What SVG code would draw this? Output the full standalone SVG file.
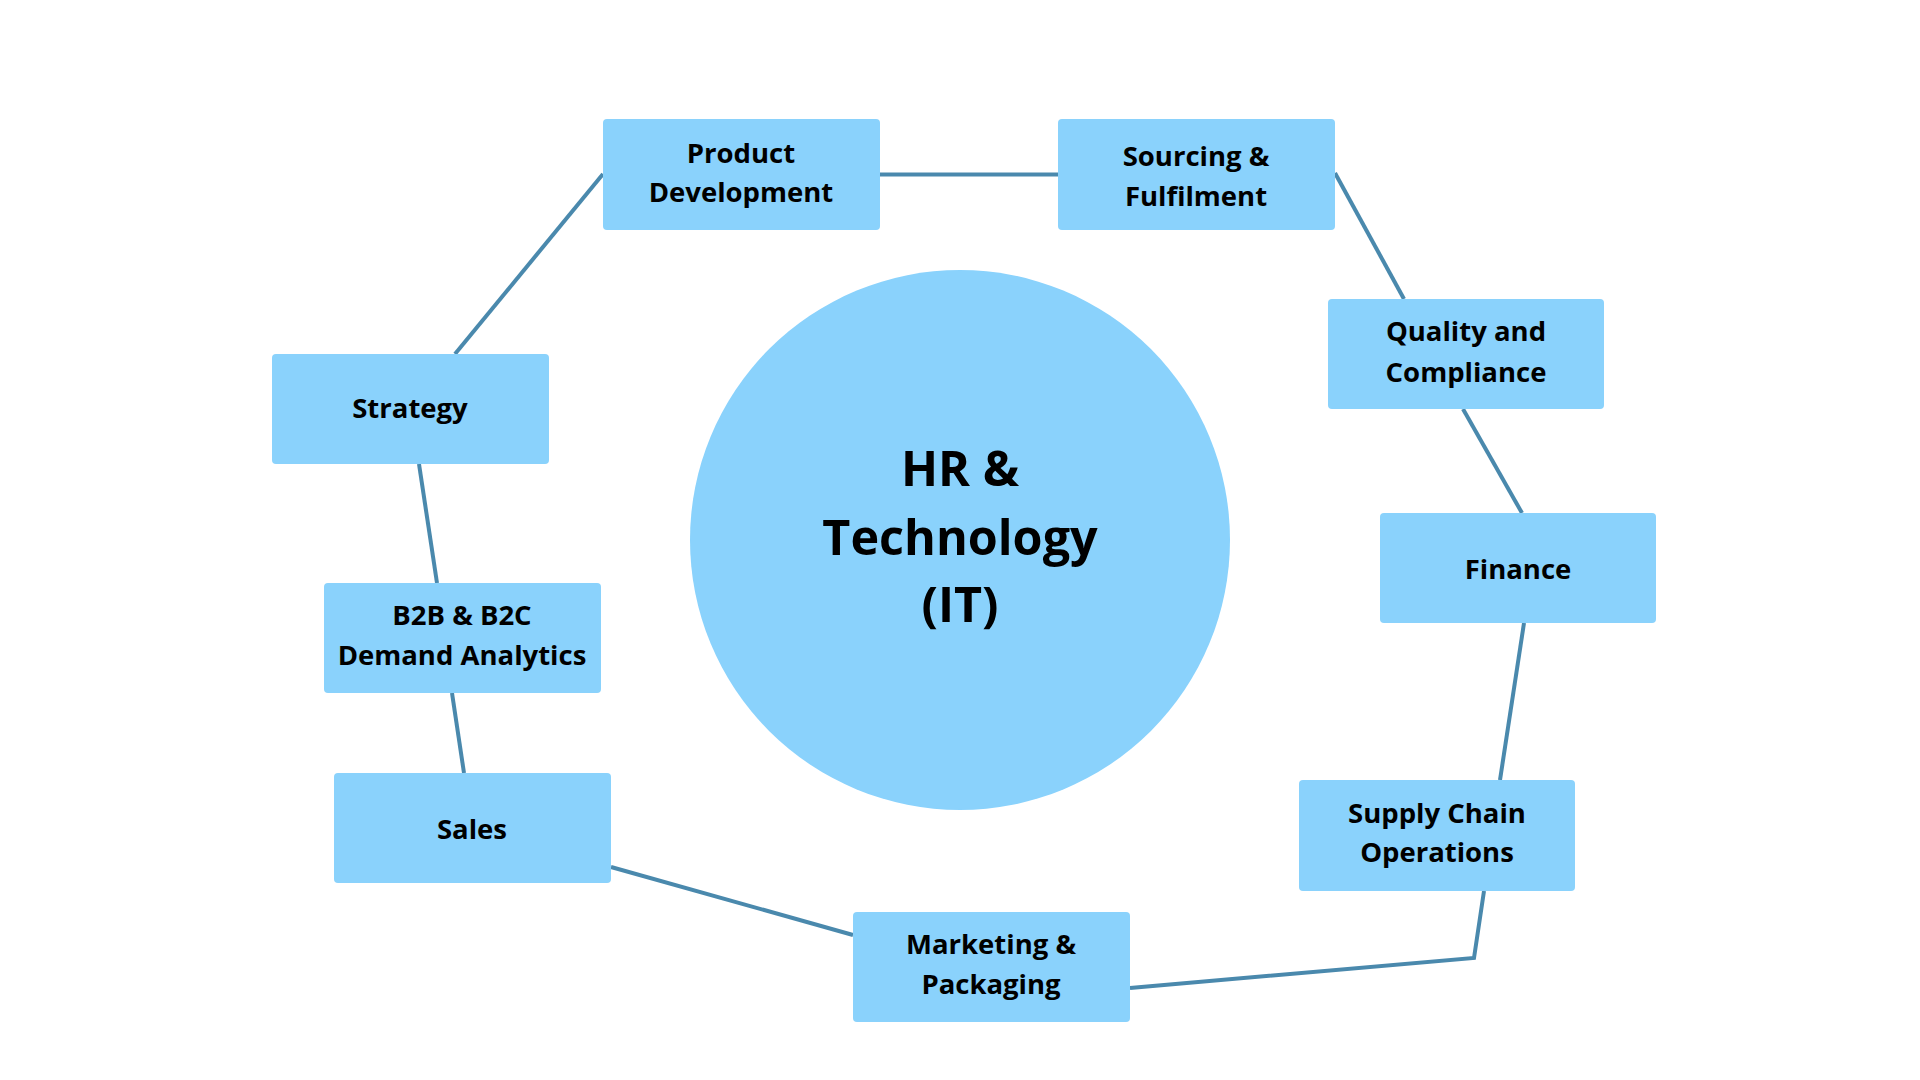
<svg xmlns="http://www.w3.org/2000/svg" width="1920" height="1080" viewBox="0 0 1920 1080">
<style>
.node{fill:#8AD2FC;}
.lbl{font-family:"Open Sans","Noto Sans","Liberation Sans",sans-serif;font-weight:700;font-size:27.5px;fill:#000;text-anchor:middle;}
.big{font-family:"Open Sans","Noto Sans","Liberation Sans",sans-serif;font-weight:700;font-size:48.5px;fill:#000;text-anchor:middle;}
.conn{fill:none;stroke:#4A89AD;stroke-width:4;stroke-linejoin:miter;}
</style>
<rect width="1920" height="1080" fill="#FFFFFF"/>
<g id="connectors">
<line class="conn" x1="879" y1="174.5" x2="1058" y2="174.5"/>
<line class="conn" x1="1335" y1="173" x2="1404" y2="299"/>
<line class="conn" x1="1463" y1="409" x2="1522" y2="513"/>
<line class="conn" x1="1524" y1="623" x2="1500" y2="780"/>
<polyline class="conn" points="1484,891 1474,958 1130,988"/>
<line class="conn" x1="853" y1="935" x2="611" y2="867"/>
<line class="conn" x1="464" y1="773" x2="452" y2="693"/>
<line class="conn" x1="437" y1="583" x2="419" y2="464"/>
<line class="conn" x1="455" y1="354" x2="603" y2="174"/>
</g>
<g id="center">
<circle class="node" cx="960" cy="540" r="270"/>
<text class="big" x="960" y="486">HR &amp;</text>
<text class="big" x="960" y="555">Technology</text>
<text class="big" x="960" y="622">(IT)</text>
</g>
<g id="product-development">
<rect class="node" x="603" y="119" width="277" height="111" rx="4"/>
<text class="lbl" x="741" y="163">Product</text>
<text class="lbl" x="741" y="202">Development</text>
</g>
<g id="sourcing">
<rect class="node" x="1058" y="119" width="277" height="111" rx="4"/>
<text class="lbl" x="1196" y="166">Sourcing &amp;</text>
<text class="lbl" x="1196" y="206">Fulfilment</text>
</g>
<g id="quality">
<rect class="node" x="1328" y="299" width="276" height="110" rx="4"/>
<text class="lbl" x="1466" y="341">Quality and</text>
<text class="lbl" x="1466" y="382">Compliance</text>
</g>
<g id="finance">
<rect class="node" x="1380" y="513" width="276" height="110" rx="4"/>
<text class="lbl" x="1518" y="579">Finance</text>
</g>
<g id="supply-chain">
<rect class="node" x="1299" y="780" width="276" height="111" rx="4"/>
<text class="lbl" x="1437" y="823">Supply Chain</text>
<text class="lbl" x="1437" y="862">Operations</text>
</g>
<g id="marketing">
<rect class="node" x="853" y="912" width="277" height="110" rx="4"/>
<text class="lbl" x="991" y="954">Marketing &amp;</text>
<text class="lbl" x="991" y="994">Packaging</text>
</g>
<g id="sales">
<rect class="node" x="334" y="773" width="277" height="110" rx="4"/>
<text class="lbl" x="472" y="839">Sales</text>
</g>
<g id="b2b">
<rect class="node" x="324" y="583" width="277" height="110" rx="4"/>
<text class="lbl" x="462" y="625">B2B &amp; B2C</text>
<text class="lbl" x="462" y="665">Demand Analytics</text>
</g>
<g id="strategy">
<rect class="node" x="272" y="354" width="277" height="110" rx="4"/>
<text class="lbl" x="410" y="418">Strategy</text>
</g>
</svg>
